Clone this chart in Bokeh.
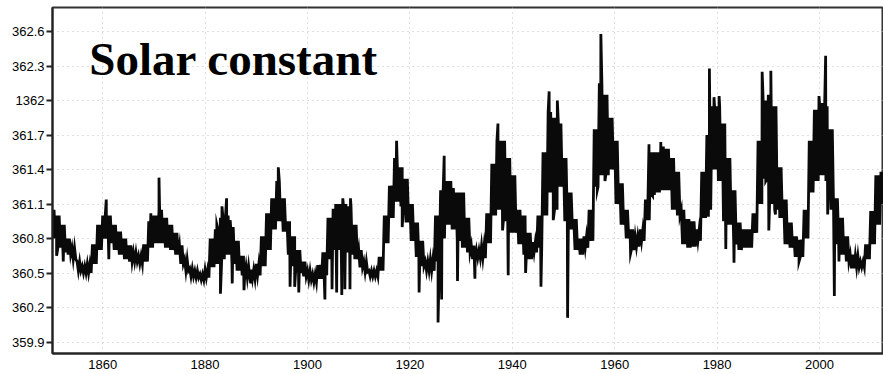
from bokeh.plotting import figure
from bokeh.models import FixedTicker, Label, Range1d
from bokeh.embed import file_html
from bokeh.resources import INLINE

# ---- data (W/m^2) ----
# upper and lower edge of the dense monthly band, one pair per year
years = list(range(1850, 2013))
band_high = [
    1361.05, 1361.00, 1360.92, 1360.80, 1360.72, 1360.60, 1360.56, 1360.58, 1360.75, 1360.92,  # 1850-59
    1361.00, 1361.00, 1360.92, 1360.86, 1360.80, 1360.74, 1360.68, 1360.65, 1360.75, 1360.95,  # 1860-69
    1361.00, 1361.05, 1360.98, 1360.92, 1360.85, 1360.74, 1360.62, 1360.54, 1360.52, 1360.49,  # 1870-79
    1360.53, 1360.80, 1360.88, 1360.98, 1361.00, 1360.90, 1360.78, 1360.65, 1360.56, 1360.53,  # 1880-89
    1360.58, 1360.82, 1361.02, 1361.15, 1361.30, 1361.15, 1360.95, 1360.82, 1360.70, 1360.60,  # 1890-99
    1360.52, 1360.49, 1360.57, 1360.68, 1360.98, 1361.06, 1361.10, 1361.10, 1361.08, 1360.92,  # 1900-09
    1360.70, 1360.60, 1360.52, 1360.52, 1360.64, 1361.00, 1361.26, 1361.50, 1361.42, 1361.32,  # 1910-19
    1361.10, 1360.94, 1360.78, 1360.60, 1360.62, 1361.00, 1361.22, 1361.30, 1361.24, 1361.20,  # 1920-29
    1361.20, 1360.98, 1360.74, 1360.70, 1360.74, 1361.02, 1361.45, 1361.65, 1361.65, 1361.50,  # 1930-39
    1361.35, 1361.05, 1361.00, 1360.85, 1360.77, 1361.00, 1361.55, 1361.90, 1361.85, 1361.80,  # 1940-49
    1361.50, 1361.20, 1360.97, 1360.80, 1360.82, 1361.05, 1361.75, 1362.15, 1362.05, 1361.85,  # 1950-59
    1361.65, 1361.28, 1361.05, 1360.88, 1360.82, 1360.88, 1361.14, 1361.55, 1361.55, 1361.60,  # 1960-69
    1361.58, 1361.50, 1361.38, 1361.05, 1360.97, 1360.95, 1360.88, 1361.38, 1361.70, 1361.95,  # 1970-79
    1361.95, 1361.80, 1361.50, 1361.22, 1360.94, 1360.88, 1360.88, 1361.02, 1361.65, 1362.00,  # 1980-89
    1362.05, 1361.95, 1361.42, 1361.14, 1360.94, 1360.82, 1360.79, 1361.05, 1361.65, 1361.92,  # 1990-99
    1361.98, 1361.95, 1361.75, 1361.15, 1360.98, 1360.82, 1360.66, 1360.65, 1360.60, 1360.75,  # 2000-09
    1361.04, 1361.35, 1361.38,                                                                  # 2010-12
]
band_low = [
    1360.80, 1360.72, 1360.68, 1360.66, 1360.62, 1360.52, 1360.50, 1360.50, 1360.58, 1360.70,  # 1850-59
    1360.80, 1360.76, 1360.70, 1360.66, 1360.62, 1360.60, 1360.60, 1360.58, 1360.60, 1360.72,  # 1860-69
    1360.76, 1360.76, 1360.72, 1360.70, 1360.66, 1360.58, 1360.52, 1360.47, 1360.46, 1360.44,  # 1870-79
    1360.46, 1360.55, 1360.58, 1360.62, 1360.66, 1360.58, 1360.52, 1360.48, 1360.46, 1360.45,  # 1880-89
    1360.48, 1360.56, 1360.70, 1360.88, 1360.95, 1360.86, 1360.66, 1360.56, 1360.50, 1360.47,  # 1890-99
    1360.44, 1360.42, 1360.45, 1360.48, 1360.62, 1360.70, 1360.70, 1360.68, 1360.66, 1360.62,  # 1900-09
    1360.55, 1360.51, 1360.47, 1360.47, 1360.52, 1360.76, 1360.98, 1361.12, 1361.08, 1360.94,  # 1910-19
    1360.78, 1360.64, 1360.56, 1360.52, 1360.52, 1360.60, 1360.80, 1360.92, 1360.88, 1360.78,  # 1920-29
    1360.72, 1360.68, 1360.62, 1360.63, 1360.63, 1360.76, 1361.00, 1361.05, 1360.95, 1360.85,  # 1930-39
    1360.85, 1360.75, 1360.66, 1360.62, 1360.68, 1360.72, 1361.00, 1361.20, 1361.05, 1361.25,  # 1940-49
    1360.95, 1360.88, 1360.70, 1360.66, 1360.72, 1360.78, 1361.25, 1361.35, 1361.35, 1361.40,  # 1950-59
    1361.10, 1360.92, 1360.80, 1360.70, 1360.73, 1360.78, 1360.96, 1361.18, 1361.20, 1361.22,  # 1960-69
    1361.22, 1361.05, 1361.00, 1360.75, 1360.72, 1360.73, 1360.78, 1360.98, 1361.05, 1361.40,  # 1970-79
    1361.30, 1360.95, 1360.92, 1360.75, 1360.70, 1360.72, 1360.72, 1360.85, 1361.10, 1361.32,  # 1980-89
    1361.10, 1361.05, 1360.98, 1360.75, 1360.72, 1360.64, 1360.64, 1360.80, 1361.20, 1361.30,  # 1990-99
    1361.35, 1361.30, 1361.05, 1360.75, 1360.66, 1360.60, 1360.54, 1360.55, 1360.55, 1360.62,  # 2000-09
    1360.75, 1360.92, 1361.10,                                                                  # 2010-12
]
# isolated monthly spikes that stick out of the band
spike_years = [1851.0, 1852.3, 1860.7, 1861.2, 1869.4, 1871.0, 1882.3, 1883.0, 1883.3, 1884.2,
               1884.9, 1885.3, 1887.6, 1888.9, 1894.3, 1896.6, 1897.5, 1898.3, 1903.4, 1904.8,
               1905.5, 1905.7, 1906.7, 1906.9, 1907.3, 1908.3, 1908.4, 1917.4, 1918.5, 1921.8,
               1925.5, 1926.2, 1926.7, 1928.0, 1929.3, 1932.7, 1937.2, 1938.1, 1939.2, 1942.6,
               1945.6, 1947.2, 1948.0, 1948.8, 1950.8, 1956.6, 1957.3, 1958.1, 1963.1, 1966.7,
               1967.4, 1969.0, 1971.4, 1978.3, 1978.5, 1979.4, 1980.4, 1981.7, 1983.3, 1988.8,
               1989.5, 1990.1, 1990.5, 1991.4, 1996.0, 1999.9, 2001.2, 2001.6, 2002.9, 2003.8]
spike_values = [1360.65, 1360.60, 1361.14, 1360.62, 1361.02, 1361.33, 1360.92, 1360.32, 1361.08, 1361.15,
                1360.96, 1360.41, 1360.35, 1360.41, 1361.42, 1360.38, 1360.38, 1360.33, 1360.27, 1360.36,
                1361.10, 1360.33, 1360.31, 1361.15, 1360.36, 1360.36, 1361.15, 1361.65, 1360.90, 1360.33,
                1360.07, 1360.27, 1361.52, 1361.30, 1360.43, 1360.45, 1361.80, 1360.87, 1360.48, 1360.50,
                1360.38, 1362.08, 1360.96, 1362.00, 1360.11, 1361.22, 1362.58, 1361.30, 1360.67, 1361.62,
                1361.17, 1361.64, 1361.43, 1360.99, 1362.28, 1362.03, 1362.04, 1360.71, 1360.59, 1362.25,
                1361.30, 1360.87, 1362.26, 1361.01, 1360.60, 1362.04, 1362.39, 1361.01, 1360.30, 1360.60]

y_ticks = [1359.9, 1360.2, 1360.5, 1360.8, 1361.1, 1361.4, 1361.7, 1362.0, 1362.3, 1362.6]
y_tick_labels = ["359.9", "360.2", "360.5", "360.8", "361.1", "361.4", "361.7", "1362", "362.3", "362.6"]
x_ticks = [1860, 1880, 1900, 1920, 1940, 1960, 1980, 2000]
title_text = "Solar constant"

# one time series: the band edges alternate every quarter year, spikes merged in by time
pts = []
for yr, h, l in zip(years, band_high, band_low):
    pts += [(yr, h), (yr + 0.25, l), (yr + 0.5, h), (yr + 0.75, l)]
pts += list(zip(spike_years, spike_values))
pts.sort(key=lambda q: q[0])
t = [q[0] for q in pts]
v = [q[1] for q in pts]

p = figure(width=883, height=374, output_backend="svg", toolbar_location=None,
           x_range=Range1d(1850.2, 2012.5), y_range=Range1d(1359.8, 1362.81),
           min_border_left=52, min_border_right=0, min_border_top=7, min_border_bottom=21)
p.background_fill_color = "white"
p.border_fill_color = "white"
p.outline_line_color = "#333333"
p.outline_line_width = 2

p.line(t, v, line_color="#0a0a0a", line_width=2.8, line_join="miter")

# axes
p.xaxis.ticker = FixedTicker(ticks=x_ticks)
p.yaxis.ticker = FixedTicker(ticks=y_ticks)
p.yaxis.major_label_overrides = {tk: lb for tk, lb in zip(y_ticks, y_tick_labels)}
for ax in (p.xaxis[0], p.yaxis[0]):
    ax.axis_line_color = "#222222"
    ax.axis_line_width = 2
    ax.major_label_text_font = "Liberation Sans"
    ax.major_label_text_font_size = "13px"
    ax.major_label_text_color = "#000000"
    ax.minor_tick_line_color = None
    ax.major_tick_line_color = "#222222"
    ax.major_tick_line_width = 2
p.yaxis.major_tick_out = 6
p.yaxis.major_tick_in = 0
p.yaxis.major_label_standoff = 2
p.xaxis.major_tick_out = 0
p.xaxis.major_tick_in = 0
p.xaxis.major_label_standoff = 6

# grid
for g in (p.xgrid[0], p.ygrid[0]):
    g.grid_line_color = "#c0c0c0"
    g.grid_line_dash = "1 4"
    g.grid_line_width = 1

p.add_layout(Label(x=1857.4, y=1362.365, text=title_text, text_font="Liberation Serif",
                   text_font_style="bold", text_font_size="47px", text_color="black",
                   text_baseline="alphabetic", text_align="left"))

open("out.html", "w").write(file_html(p, INLINE))
